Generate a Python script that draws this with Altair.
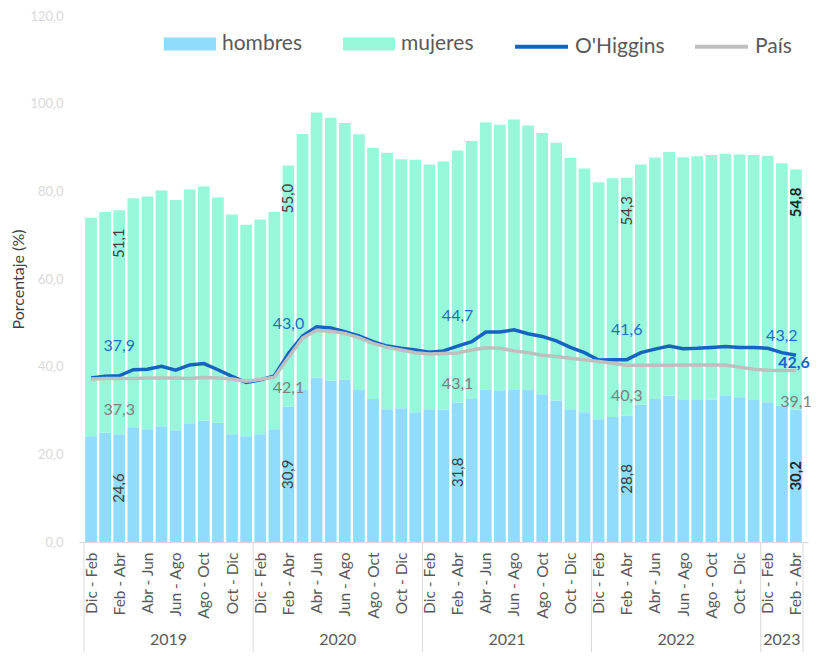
import json
import altair as alt
import pandas as pd

# ---------------- data ----------------
years = ["2019", "2020", "2021", "2022", "2023"]
bars_per_year = [12, 12, 12, 12, 3]
periods = ["Dic - Feb", "Ene - Mar", "Feb - Abr", "Mar - May", "Abr - Jun", "May - Jul",
           "Jun - Ago", "Jul - Sep", "Ago - Oct", "Sep - Nov", "Oct - Dic", "Nov - Ene"]

hombres = [24.1, 24.9, 24.6, 26.0, 25.7, 26.4, 25.5, 27.1, 27.7, 27.2, 24.6, 24.1,
           24.6, 25.7, 30.9, 34.7, 37.5, 36.8, 37.0, 34.7, 32.6, 30.3, 30.5, 29.6,
           30.3, 30.2, 31.8, 32.6, 34.7, 34.6, 34.7, 34.7, 33.7, 32.3, 30.3, 29.6,
           28.0, 28.5, 28.8, 31.3, 32.6, 33.4, 32.4, 32.4, 32.5, 33.5, 33.0, 32.4,
           31.9, 31.1, 30.2]
mujeres = [49.9, 50.4, 51.1, 52.4, 53.1, 53.8, 52.5, 53.3, 53.4, 51.4, 50.1, 48.3,
           49.0, 49.6, 55.0, 58.4, 60.5, 60.0, 58.6, 58.3, 57.3, 58.5, 56.8, 57.6,
           55.8, 56.6, 57.5, 58.9, 61.0, 60.6, 61.7, 60.3, 59.6, 58.8, 57.3, 55.6,
           54.1, 54.5, 54.3, 54.8, 55.1, 55.6, 55.4, 55.6, 55.8, 55.1, 55.4, 55.9,
           56.2, 55.3, 54.8]
ohiggins = [37.4, 37.8, 37.9, 39.3, 39.4, 40.1, 39.2, 40.4, 40.7, 39.3, 37.8, 36.4,
            37.0, 37.9, 43.0, 47.0, 49.1, 48.8, 48.0, 47.0, 45.7, 44.7, 44.2, 43.8,
            43.3, 43.6, 44.7, 45.7, 47.9, 47.9, 48.4, 47.5, 46.9, 45.9, 44.4, 43.2,
            41.5, 41.6, 41.6, 43.2, 44.0, 44.7, 44.1, 44.2, 44.4, 44.6, 44.4, 44.4,
            44.2, 43.2, 42.6]
pais = [37.2, 37.3, 37.3, 37.3, 37.4, 37.4, 37.4, 37.3, 37.5, 37.4, 37.2, 36.7,
        37.1, 37.6, 42.1, 46.5, 48.3, 48.1, 47.6, 46.6, 45.3, 44.4, 43.8, 43.2,
        42.9, 43.0, 43.1, 43.8, 44.3, 44.2, 43.6, 43.2, 42.6, 42.3, 41.9, 41.6,
        41.2, 40.8, 40.3, 40.3, 40.3, 40.3, 40.4, 40.4, 40.4, 40.4, 39.9, 39.4,
        39.2, 39.1, 39.1]

series_bar = ["hombres", "mujeres"]
series_line = ["O'Higgins", "País"]

# labelled points (bar index)
lbl_h = [2, 14, 26, 38]
lbl_m = [2, 14, 38]
lbl_o = [2, 14, 26, 38]
lbl_o2 = [49]
lbl_p = [2, 14, 26, 38, 50]
last = [50]

# ---------------- tables ----------------
period_labels, year_of = [], []
for y, n in zip(years, bars_per_year):
    period_labels += periods[:n]
    year_of += [y] * n
N = len(period_labels)

df = pd.DataFrame({
    "idx": list(range(N)), "periodo": period_labels, "anio": year_of,
    "hombres": hombres, "mujeres": mujeres, "ohiggins": ohiggins, "pais": pais,
})

starts, s = [], 0
for n in bars_per_year:
    starts.append(s)
    s += n
df_years = pd.DataFrame({"anio": years,
                         "centro": [st + n / 2 - 0.5 for st, n in zip(starts, bars_per_year)]})
df_sep = pd.DataFrame({"b": [st - 0.5 for st in starts] + [N - 0.5]})

# ---------------- style ----------------
W, H = 729, 526
C_H, C_M = "#8fdcfc", "#96f7da"
C_O, C_P = "#1565c0", "#bfbfbf"
FONT = "Lato"

xscale = alt.Scale(domain=[-0.5, N - 0.5], nice=False, zero=False)
yscale = alt.Scale(domain=[0, 120], nice=False)

xaxis = alt.Axis(
    values=list(range(0, N, 2)),
    labelExpr=json.dumps(period_labels, ensure_ascii=False) + "[datum.value]",
    labelAngle=270, labelAlign="right", labelBaseline="middle",
    labelFontSize=15.5, labelColor="#595959", labelPadding=10,
    ticks=False, grid=False, domainColor="#d9d9d9", domainWidth=1,
    labelFlush=False, labelOverlap=False, labelBound=False, title=None,
)
yaxis = alt.Axis(
    values=list(range(0, 121, 20)),
    labelExpr="replace(format(datum.value, '.1f'), '.', ',')",
    domain=False, ticks=False, grid=False,
    labelColor="#d9d9d9", labelFontSize=13, labelPadding=16,
    title="Porcentaje (%)", titleColor="#404040", titleFontSize=16,
    titleFontWeight="normal", titlePadding=3,
)


def fmt(field):
    return f"replace(format(datum.{field}, '.1f'), '.', ',')"


def XQ(field="idx:Q"):
    return alt.X(field, scale=xscale, axis=xaxis)


def YQ(field, **kw):
    return alt.Y(field, scale=yscale, axis=yaxis, **kw)


base = alt.Chart(df)

bars = base.transform_fold(
    ["hombres", "mujeres"], as_=["serie", "valor"]
).transform_calculate(
    orden="datum.serie == 'hombres' ? 0 : 1"
).mark_bar(size=11.7).encode(
    x=XQ(),
    y=YQ("valor:Q", stack="zero"),
    fill=alt.Fill("serie:N", scale=alt.Scale(domain=series_bar, range=[C_H, C_M]),
                  legend=alt.Legend(title=None, orient="none", legendX=85, legendY=2,
                                    direction="horizontal",
                                    symbolType="M-1,-0.25H1V0.25H-1Z", symbolSize=2704,
                                    symbolStrokeWidth=0, symbolOpacity=1,
                                    labelFontSize=21, labelColor="#595959", labelOffset=6,
                                    columnPadding=40, padding=0, labelFont=FONT)),
    order=alt.Order("orden:Q"),
)

stroke_scale = alt.Scale(domain=series_line, range=[C_O, C_P])
stroke_legend = alt.Legend(title=None, orient="none", legendX=434, legendY=2,
                           direction="horizontal", symbolType="stroke", symbolSize=2809,
                           symbolStrokeWidth=4, labelFontSize=21, labelColor="#595959",
                           labelOffset=5, columnPadding=22, padding=0, labelFont=FONT)

line_o = base.transform_calculate(
    serie=json.dumps(series_line[0], ensure_ascii=False)
).mark_line(strokeWidth=3.5).encode(
    x=XQ(), y=YQ("ohiggins:Q"),
    stroke=alt.Stroke("serie:N", scale=stroke_scale, legend=stroke_legend),
)
line_p = base.transform_calculate(
    serie=json.dumps(series_line[1], ensure_ascii=False)
).mark_line(strokeWidth=3.5).encode(
    x=XQ(), y=YQ("pais:Q"),
    stroke=alt.Stroke("serie:N", scale=stroke_scale, legend=stroke_legend),
)


def labels(idxs, field, ypos, **mk):
    return base.transform_filter(
        alt.FieldOneOfPredicate(field="idx", oneOf=idxs)
    ).transform_calculate(
        txt=fmt(field), mid="datum.hombres / 2", tot="datum.hombres + datum.mujeres"
    ).mark_text(font=FONT, **mk).encode(
        x=XQ(), y=YQ(ypos), text="txt:N"
    )


lab_h = labels(lbl_h, "hombres", "mid:Q", angle=270, fontSize=15, color="#404040",
               baseline="middle", align="center")
lab_h_last = labels(last, "hombres", "mid:Q", angle=270, fontSize=15, color="#262626",
                    fontWeight="bold", baseline="middle", align="center")
lab_m = labels(lbl_m, "mujeres", "tot:Q", angle=270, fontSize=15, color="#404040",
               baseline="middle", align="center", dx=-33)
lab_m_last = labels(last, "mujeres", "tot:Q", angle=270, fontSize=15, color="#262626",
                    fontWeight="bold", baseline="middle", align="center", dx=-33)
lab_o = labels(lbl_o, "ohiggins", "ohiggins:Q", fontSize=16, color="#1f6fc5",
               baseline="middle", align="center", dy=-30)
lab_o2 = labels(lbl_o2, "ohiggins", "ohiggins:Q", fontSize=16, color="#1f6fc5",
                baseline="middle", align="center", dy=-17)
lab_o_last = labels(last, "ohiggins", "ohiggins:Q", fontSize=16, color="#1565c0",
                    fontWeight="bold", baseline="middle", align="center", dy=8, dx=-2)
lab_p = labels(lbl_p, "pais", "pais:Q", fontSize=16, color="#7f7f7f",
               baseline="middle", align="center", dy=31)

year_text = alt.Chart(df_years).mark_text(
    font=FONT, fontSize=16, color="#595959", baseline="middle", align="center"
).encode(x=XQ("centro:Q"), y=alt.value(H + 98), text="anio:N")

seps = alt.Chart(df_sep).mark_rule(color="#d9d9d9", strokeWidth=1).encode(
    x=XQ("b:Q"), y=alt.value(H), y2=alt.value(H + 112)
)

chart = alt.layer(
    bars, line_o, line_p,
    lab_h, lab_h_last, lab_m, lab_m_last, lab_o, lab_o2, lab_o_last, lab_p,
    year_text, seps,
).properties(
    width=W, height=H,
    padding={"left": 71, "top": 8, "right": 13, "bottom": 110},
    autosize=alt.AutoSizeParams(type="none"),
).configure(font=FONT).configure_view(stroke=None).configure_axisX(labelOverlap=False)

chart.save("out.html", embed_options={"renderer": "svg", "actions": False})
